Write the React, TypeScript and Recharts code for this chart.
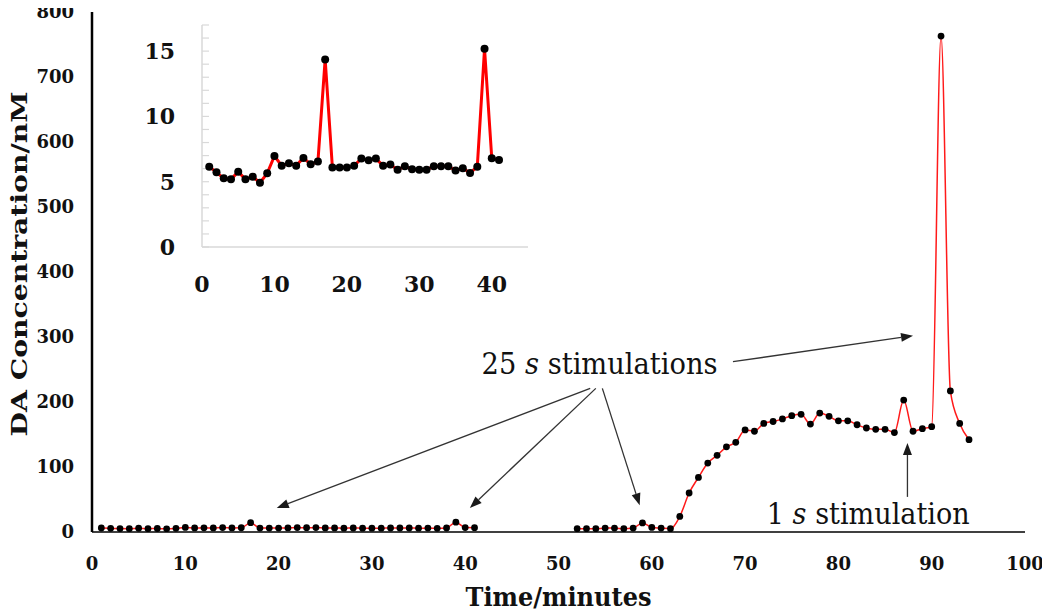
import React from 'react';
import { LineChart, Line, XAxis, YAxis, ReferenceLine, ReferenceDot } from 'recharts';

// minutes 1-41: first recording block (also shown zoomed in the inset)
const earlyMinutes = [
  1, 2, 3, 4, 5, 6, 7, 8, 9, 10, 11, 12, 13, 14, 15, 16, 17, 18, 19, 20, 21,
  22, 23, 24, 25, 26, 27, 28, 29, 30, 31, 32, 33, 34, 35, 36, 37, 38, 39, 40, 41,
];
const earlyDA = [
  6.15, 5.72, 5.26, 5.18, 5.77, 5.18, 5.38, 4.92, 5.64, 6.97, 6.23, 6.41, 6.23, 6.82,
  6.33, 6.54, 14.36, 6.08, 6.08, 6.08, 6.23, 6.77, 6.64, 6.77, 6.23, 6.31, 5.92, 6.18,
  5.95, 5.92, 5.92, 6.18, 6.18, 6.18, 5.85, 6.03, 5.67, 6.15, 15.18, 6.79, 6.67,
];

// minutes 52-94: second block
const lateMinutes = [
  52, 53, 54, 55, 56, 57, 58, 59, 60, 61, 62, 63, 64, 65, 66, 67, 68, 69, 70, 71, 72,
  73, 74, 75, 76, 77, 78, 79, 80, 81, 82, 83, 84, 85, 86, 87, 88, 89, 90, 91, 92, 93, 94,
];
const lateDA = [
  5, 5, 5, 6, 6, 5, 6, 14, 7, 6, 5, 24, 60, 84, 106, 118, 131, 138, 157, 155, 167,
  170, 174, 179, 181, 166, 183, 178, 171, 171, 165, 160, 158, 158, 153, 203, 155, 159, 162, 763, 217, 167, 142,
];

const mainXTicks = [0, 10, 20, 30, 40, 50, 60, 70, 80, 90, 100];
const mainYTicks = [0, 100, 200, 300, 400, 500, 600, 700, 800];
const insetXTicks = [0, 10, 20, 30, 40];
const insetYTicks = [0, 1, 2, 3, 4, 5, 6, 7, 8, 9, 10, 11, 12, 13, 14, 15, 16, 17];

const earlyRows = earlyMinutes.map((t, i) => ({ t, da: earlyDA[i] }));
const lateRows = lateMinutes.map((t, i) => ({ t, da: lateDA[i] }));

// annotation arrows, in data units (minutes, nM)
const arrows = [
  { from: { x: 53.4, y: 221 }, to: { x: 19.8, y: 37 } },
  { from: { x: 54.0, y: 221 }, to: { x: 40.5, y: 37 } },
  { from: { x: 54.7, y: 221 }, to: { x: 58.7, y: 41 } },
  { from: { x: 68.7, y: 262 }, to: { x: 88.0, y: 302 } },
  { from: { x: 87.4, y: 54 }, to: { x: 87.4, y: 137 } },
];

const SERIF = '"DejaVu Serif", "Liberation Serif", serif';

const arrowShape = (p: any) => {
  const { x1, y1, x2, y2 } = p;
  const ang = Math.atan2(y2 - y1, x2 - x1);
  const len = 12;
  const half = 4.5;
  const bx = x2 - len * Math.cos(ang);
  const by = y2 - len * Math.sin(ang);
  const px = -Math.sin(ang) * half;
  const py = Math.cos(ang) * half;
  return (
    <g>
      <line x1={x1} y1={y1} x2={bx} y2={by} stroke="#333" strokeWidth={1.3} />
      <polygon points={`${x2},${y2} ${bx + px},${by + py} ${bx - px},${by - py}`} fill="#1a1a1a" />
    </g>
  );
};

const stimText = (count: string, rest: string, width: number) => (p: any) => (
  <text
    x={p.cx}
    y={p.cy}
    textAnchor="middle"
    dominantBaseline="central"
    fontFamily={SERIF}
    fontSize={30}
    fill="#111"
    textLength={width}
    lengthAdjust="spacingAndGlyphs"
  >
    {count} <tspan fontStyle="italic">s</tspan> {rest}
  </text>
);

const yTitle = (props: any) => {
  const vb = props.viewBox || { x: 0, y: 12, width: 92, height: 520 };
  const cx = vb.x + 19;
  const cy = vb.y + vb.height / 2 - 8;
  return (
    <text
      x={cx}
      y={cy}
      transform={`rotate(-90 ${cx} ${cy})`}
      textAnchor="middle"
      dominantBaseline="central"
      fontFamily={SERIF}
      fontWeight="bold"
      fontSize={22}
      fill="#111"
      textLength={345}
      lengthAdjust="spacingAndGlyphs"
    >
      DA Concentration/nM
    </text>
  );
};

const xTitle = (props: any) => {
  const vb = props.viewBox || { x: 92, y: 532, width: 933, height: 82 };
  const cx = vb.x + vb.width / 2;
  return (
    <text
      x={cx}
      y={597}
      textAnchor="middle"
      dominantBaseline="central"
      fontFamily={SERIF}
      fontWeight="bold"
      fontSize={26}
      fill="#111"
      textLength={186}
      lengthAdjust="spacingAndGlyphs"
    >
      Time/minutes
    </text>
  );
};

const mainTick = { fill: '#111', fontFamily: SERIF, fontWeight: 'bold', fontSize: 18 } as any;
const insetTick = { fill: '#111', fontFamily: SERIF, fontWeight: 'bold', fontSize: 22 } as any;

export default function App() {
  return (
    <div style={{ position: 'relative', width: 1050, height: 614, margin: '-8px 0 0 -8px', background: '#fff' }}>
      <LineChart width={1050} height={614} margin={{ top: 12, right: 25, left: 0, bottom: 0 }}>
        <XAxis
          type="number"
          dataKey="t"
          domain={[0, 100]}
          ticks={mainXTicks}
          interval={0}
          allowDataOverflow
          axisLine={{ stroke: '#404040', strokeWidth: 2 }}
          tickLine={false}
          tickSize={0}
          tickMargin={25}
          tick={mainTick}
          height={82}
          label={xTitle}
        />
        <YAxis
          type="number"
          domain={[0, 800]}
          ticks={mainYTicks}
          interval={0}
          allowDataOverflow
          axisLine={{ stroke: '#000', strokeWidth: 2.5 }}
          tickLine={false}
          tickSize={0}
          tickMargin={18}
          tick={mainTick}
          width={92}
          label={yTitle}
        />
        <Line
          data={earlyRows}
          dataKey="da"
          type="monotone"
          stroke="#ff1a1a"
          strokeWidth={1.5}
          dot={{ r: 3.4, fill: '#000', stroke: '#000', strokeWidth: 0 }}
          activeDot={false}
          isAnimationActive={false}
        />
        <Line
          data={lateRows}
          dataKey="da"
          type="monotone"
          stroke="#ff1a1a"
          strokeWidth={1.5}
          dot={{ r: 3.4, fill: '#000', stroke: '#000', strokeWidth: 0 }}
          activeDot={false}
          isAnimationActive={false}
        />
        {arrows.map((a, i) => (
          <ReferenceLine key={i} segment={[a.from, a.to]} shape={arrowShape} />
        ))}
        <ReferenceDot x={54.4} y={260} r={0} shape={stimText('25', 'stimulations', 236)} />
        <ReferenceDot x={83.2} y={29} r={0} shape={stimText('1', 'stimulation', 203)} />
      </LineChart>

      <div style={{ position: 'absolute', left: 100, top: 10 }}>
        <LineChart width={440} height={300} data={earlyRows} margin={{ top: 15, right: 12, left: 0, bottom: 0 }}>
          <XAxis
            type="number"
            dataKey="t"
            domain={[0, 45]}
            ticks={insetXTicks}
            interval={0}
            axisLine={{ stroke: '#d9d9d9', strokeWidth: 1.5 }}
            tickLine={false}
            tickSize={0}
            tickMargin={29}
            tick={insetTick}
            height={63}
          />
          <YAxis
            type="number"
            domain={[0, 17]}
            ticks={insetYTicks}
            interval={0}
            tickFormatter={(v: number) => (v % 5 === 0 ? String(v) : '')}
            axisLine={{ stroke: '#d9d9d9', strokeWidth: 1.5 }}
            tickLine={{ stroke: '#d9d9d9', strokeWidth: 1.2 }}
            tickSize={-7}
            tickMargin={34}
            tick={insetTick}
            width={102}
          />
          <Line
            dataKey="da"
            type="linear"
            stroke="#ff0000"
            strokeWidth={3}
            dot={{ r: 4, fill: '#000', stroke: '#000', strokeWidth: 0 }}
            activeDot={false}
            isAnimationActive={false}
          />
        </LineChart>
      </div>
    </div>
  );
}
